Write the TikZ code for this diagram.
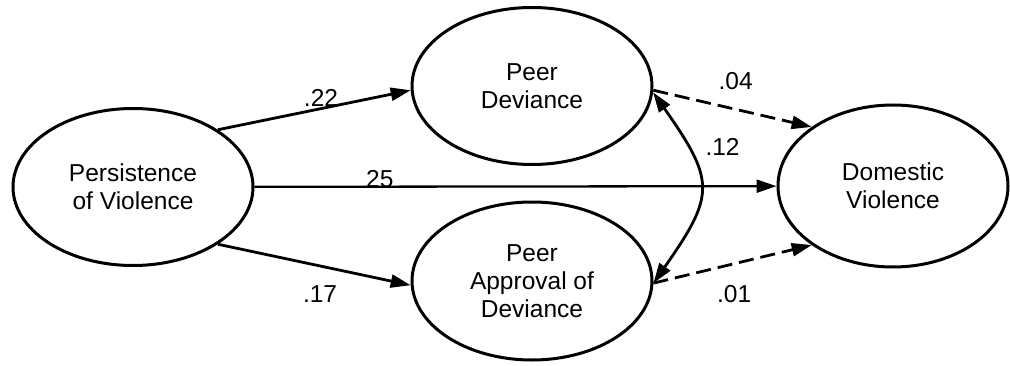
\documentclass[tikz,border=0pt]{standalone}
\usepackage{fontspec}
\setmainfont{Liberation Sans}
\usetikzlibrary{shapes}
\usetikzlibrary{arrows.meta}
\usetikzlibrary{positioning}

\begin{document}
\begin{tikzpicture}
                [x=1pt, y=1pt,
                 font=\fontsize{24.5}{28}\selectfont,
                 >={Triangle[length=20pt, width=13pt]},
                 construct/.style={ellipse, draw, line width=3pt, inner sep=0pt,
                                   minimum width=240pt, minimum height=157pt, align=center},
                 direct/.style={->, line width=2.8pt},
                 weakdirect/.style={direct, dash pattern=on 15pt off 7pt},
                 coef/.style={inner sep=1pt}]
                \useasboundingbox (0,0) rectangle (1010,365);
                \node[construct] (pers) at (133,178) {Persistence\\of Violence};
                \node[construct] (pd) at (532,279) {Peer\\Deviance};
                \node[construct, minimum height=158pt] (pa) at (532,84) {Peer\\Approval of\\Deviance};
                \node[construct, minimum width=230pt, minimum height=162pt] (dom) at (893,179) {Domestic\\Violence};
                \draw[direct] (pers.34) -- node[coef, pos=.535, above] {.22} (pd.182);
                \draw[direct] (pers.-34) -- node[coef, pos=.53, below=17pt] {.17} (pa.182);
                \draw[direct, line width=2.3pt] (pers) -- node[coef, pos=.24, above=-3pt] {25} (dom);
                \draw[weakdirect] (pd.-2) -- node[coef, pos=.52, above=17pt] {.04} (dom.144);
                \draw[weakdirect] (pa.-1) -- node[coef, pos=.51, below=19pt] {.01} (dom.216);
                \draw[<->, line width=2.8pt] (pd.-3) to[out=-55, in=55, looseness=1.45]
                    node[coef, pos=.25, right=15pt] {.12} (pa.-1);
            \end{tikzpicture}
\end{document}
